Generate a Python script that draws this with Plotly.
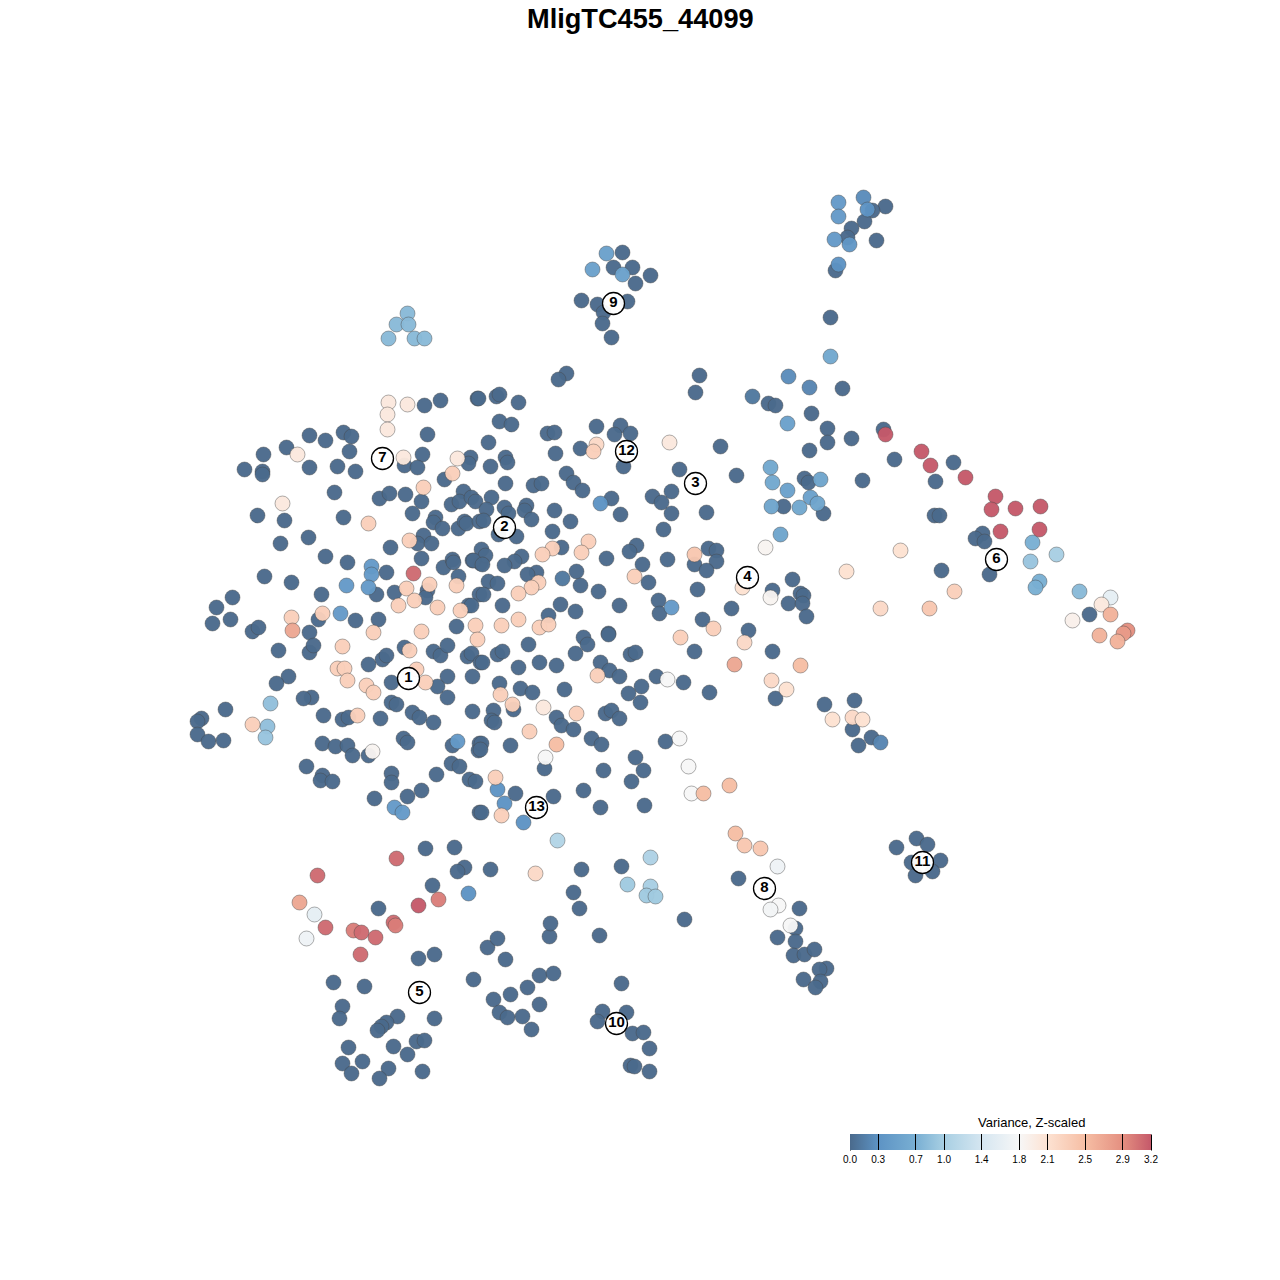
"""t-SNE style scatter of cells coloured by scaled variance."""
import plotly.graph_objects as go

TITLE = "MligTC455_44099"

# cells at the bottom of the scale
dark_x = [424,440,477,427,422,404,417,309,325,343,351,349,286,263,244,262,262,309,337,355,334,379,389,405,421,412,444,470,468,463,451,459,471,475,435,433,442,458,464,466,479,257,284,343,280,308,325,347,390,423,417,431,421,264,291,321,386,376,394,232,216,212,230,252,258,318,309,355,378,443,452,453,458,472,480,427,425,468,456,479,
          478,496,499,518,499,511,547,554,596,620,614,630,488,580,555,505,507,490,623,720,736,679,566,573,582,505,533,541,671,652,661,671,706,611,620,491,486,504,508,526,524,531,554,483,570,498,516,552,663,636,629,606,561,481,485,473,482,521,514,504,667,642,708,716,716,694,706,536,527,576,488,497,580,648,483,598,697,502,658,659,560,548,575,619,731,702,748,471,608,695,768,
          278,309,313,404,368,382,386,433,440,447,467,471,480,288,276,391,447,437,472,447,311,303,391,396,412,419,433,472,225,201,197,197,208,223,323,342,348,380,322,335,347,352,368,403,407,452,479,478,306,322,320,332,451,459,436,391,391,469,475,421,407,374,479,
          583,587,608,528,575,630,635,694,772,497,502,482,518,539,556,600,609,619,499,520,532,564,656,683,641,628,640,709,775,493,491,494,513,556,561,573,605,611,619,591,601,665,481,480,510,544,603,635,643,631,515,553,583,600,644,481,
          885,872,864,851,847,876,835,622,613,632,650,635,581,597,627,603,602,611,830,566,558,699,842,775,811,827,883,851,827,809,894,953,935,862,804,808,783,823,934,939,982,975,984,989,941,1089,792,772,800,803,788,802,806,824,854,852,871,858,
          425,454,464,457,490,432,378,418,434,487,497,505,549,550,599,684,579,573,581,621,738,799,777,795,795,793,804,814,826,819,820,803,815,916,927,896,911,940,915,932,
          333,364,342,339,397,434,386,381,377,348,393,416,424,407,342,362,351,388,379,422,473,539,553,527,510,493,539,499,507,522,531,621,602,626,597,632,643,649,630,634,649]
dark_y = [405,400,398,434,454,465,467,435,440,432,436,451,447,454,469,471,474,467,466,471,492,498,493,494,501,513,479,457,463,491,504,501,497,501,517,522,528,528,521,523,521,515,520,517,543,537,556,562,547,535,543,543,558,576,582,594,572,594,592,597,607,623,619,631,627,619,632,620,619,567,559,562,576,560,563,590,597,605,626,594,
          398,396,394,402,421,424,433,432,426,425,434,433,442,448,453,457,462,466,466,446,475,469,473,482,490,483,485,483,491,496,502,513,512,498,514,497,509,507,513,505,510,519,510,520,521,534,536,531,529,545,551,558,547,549,555,560,564,556,561,565,559,564,548,550,561,564,570,572,574,571,581,583,585,582,594,591,589,605,600,613,604,615,611,605,608,619,630,605,633,392,403,
          650,652,645,647,664,659,655,651,655,645,656,653,662,676,683,682,676,686,676,697,697,698,702,704,712,717,722,711,709,718,721,734,741,740,715,719,717,718,743,746,745,755,755,738,742,745,743,750,766,775,780,781,763,766,774,773,782,779,781,790,796,798,812,
          637,644,634,644,653,654,652,651,651,654,651,662,667,662,665,662,670,676,683,688,692,689,676,682,686,693,702,692,698,710,720,722,709,717,725,729,713,710,718,738,744,741,743,749,745,768,770,757,770,781,793,796,790,807,805,812,
          206,210,221,228,237,240,270,252,267,267,275,283,300,304,301,312,323,337,317,373,379,375,388,405,413,428,429,438,442,450,459,462,481,480,478,482,506,513,515,515,533,538,541,574,570,614,579,590,593,595,603,603,616,704,700,729,737,745,
          848,847,867,871,869,885,908,958,954,947,938,959,936,923,935,919,908,892,869,866,878,908,937,928,941,955,954,949,968,969,981,979,987,838,844,847,862,860,875,871,
          982,986,1006,1018,1016,1018,1022,1026,1030,1047,1046,1041,1040,1054,1063,1061,1073,1068,1078,1071,979,975,973,987,994,999,1004,1012,1017,1016,1029,983,1011,1012,1021,1033,1032,1048,1065,1066,1071]

# slightly lighter blues
blue_x = [752,562,863,838,867,838,834,849,838,606,592,622,788,809,787,830,770,772,787,820,810,817,799,771,780,880,371,371,346,368,340,600,671,457,394,402,497,504,523,468]
blue_y = [396,578,197,202,209,216,239,244,264,253,269,274,376,387,423,356,467,482,490,479,497,503,507,506,534,742,566,574,585,587,613,503,607,741,807,812,789,803,822,893]
blue_v = [.1,.1,.25,.4,.3,.4,.4,.35,.3,.5,.5,.5,.25,.2,.5,.6,.6,.6,.5,.55,.5,.55,.6,.55,.55,.2,.4,.4,.4,.4,.4,.3,.4,.4,.4,.4,.3,.3,.3,.3]

# pale blues and whites
pale_x = [407,396,408,388,414,424,270,267,265,557,1032,1056,1030,1039,1035,1079,1110,650,627,650,646,655,314,306,777,778,770,790,765,770,372,667,679,688,691,545,1072]
pale_y = [313,324,324,338,338,338,703,726,737,840,542,554,561,581,587,591,597,857,884,886,895,896,914,938,866,905,909,925,547,597,751,679,738,766,793,757,620]
pale_v = [.8,.8,.8,.8,.8,.8,.85,.85,.9,1.1,.7,1.0,.9,.7,.7,.8,1.6,1.05,.95,1.0,.95,.95,1.6,1.7,1.7,1.8,1.75,1.8,1.85,1.85,1.85,1.8,1.8,1.8,1.8,1.8,1.9]

# peach cells
peach_x = [388,407,387,387,297,403,457,282,452,423,368,409,429,406,456,414,398,437,460,291,322,475,373,421,596,593,669,588,581,552,542,694,634,538,531,518,518,501,539,548,713,742,342,477,409,337,344,347,366,373,416,425,357,252,680,744,597,500,512,576,543,529,495,501,771,786,832,852,862,900,846,954,880,929,1101,535]
peach_y = [402,404,414,429,454,457,458,503,473,487,523,540,584,588,585,600,605,607,610,617,613,625,632,631,444,451,442,541,552,548,554,554,576,582,587,593,619,625,627,624,628,587,646,639,650,668,668,680,685,692,669,682,715,724,637,642,675,694,704,713,707,731,777,815,680,689,719,717,719,550,571,591,608,608,604,873]
peach_v = [2.0,2.0,2.0,2.0,2.0,2.0,2.0,2.0,2.3,2.3,2.3,2.3,2.3,2.3,2.3,2.3,2.3,2.3,2.3,2.3,2.3,2.3,2.3,2.3,2.2,2.3,2.0,2.3,2.3,2.3,2.3,2.4,2.3,2.3,2.3,2.3,2.3,2.3,2.3,2.3,2.3,2.1,2.3,2.3,2.3,2.3,2.3,2.3,2.3,2.3,2.3,2.3,2.3,2.3,2.3,2.2,2.3,2.3,2.3,2.3,2.0,2.3,2.3,2.3,2.2,2.1,2.1,2.2,2.1,2.1,2.1,2.3,2.2,2.4,2.0,2.2]

# salmon and red cells
red_x = [292,413,556,729,703,735,744,760,734,800,885,921,930,965,995,991,1015,1040,1039,1000,1110,1099,1127,1123,1117,396,317,438,418,299,325,353,361,393,395,375,360]
red_y = [630,573,744,785,793,833,845,848,664,665,434,451,465,477,496,509,508,506,529,531,614,635,630,633,641,858,875,899,905,902,927,930,932,922,925,937,954]
red_v = [2.7,3.1,2.5,2.5,2.5,2.5,2.4,2.4,2.7,2.5,3.2,3.2,3.2,3.2,3.2,3.2,3.2,3.2,3.2,3.2,2.6,2.6,2.9,2.8,2.6,3.1,3.1,3.0,3.2,2.7,3.1,3.0,3.1,3.1,3.0,3.1,3.1]

cluster_x = [408,504,695,747,419,996,382,764,613,616,922,626,536]
cluster_y = [678,527,483,577,992,559,458,888,303,1023,862,451,807]
cluster_labels = ["1","2","3","4","5","6","7","8","9","10","11","12","13"]

scale_ticks = [0.0,0.3,0.7,1.0,1.4,1.8,2.1,2.5,2.9,3.2]
scale_labels = ["0.0","0.3","0.7","1.0","1.4","1.8","2.1","2.5","2.9","3.2"]
scale_colors = ["#4a6a8c","#5d93c4","#79afd3","#a8cfe3","#d5e6f1","#f7f7f7","#fde2d2","#f6bea4","#e48f80","#c5596a"]

colorscale = [[t / 3.2, c] for t, c in zip(scale_ticks, scale_colors)]

fig = go.Figure()
marker_line = dict(width=1, color="rgba(70,70,70,0.45)")


def add_cells(xs, ys, vals):
    fig.add_trace(go.Scatter(
        x=xs, y=ys, mode="markers", hoverinfo="skip", showlegend=False,
        marker=dict(size=15, color=vals, coloraxis="coloraxis", opacity=0.96, line=marker_line),
    ))


add_cells(dark_x, dark_y, [0.0] * len(dark_x))
add_cells(blue_x, blue_y, blue_v)
add_cells(pale_x, pale_y, pale_v)
add_cells(peach_x, peach_y, peach_v)
add_cells(red_x, red_y, red_v)

fig.add_trace(go.Scatter(
    x=cluster_x, y=cluster_y, text=cluster_labels, mode="markers+text",
    textposition="middle center", hoverinfo="skip", showlegend=False,
    textfont=dict(family="Liberation Sans", size=15, color="black", weight="bold"),
    marker=dict(size=22, color="rgba(255,255,255,0.95)", line=dict(width=1.3, color="black")),
))

fig.update_layout(
    width=1280, height=1280, margin=dict(l=0, r=0, t=0, b=0),
    paper_bgcolor="white", plot_bgcolor="white",
    font=dict(family="Liberation Sans", color="black"),
    xaxis=dict(range=[-0.5, 1279.5], visible=False),
    yaxis=dict(range=[1279.5, -0.5], visible=False),
    coloraxis=dict(
        cmin=0, cmax=3.2, colorscale=colorscale,
        colorbar=dict(
            orientation="h", lenmode="pixels", len=301, thicknessmode="pixels", thickness=16,
            xref="paper", yref="paper", x=1000.5 / 1280, xanchor="center", y=1 - 1181 / 1280, yanchor="bottom",
            xpad=0, ypad=0, outlinewidth=0, ticks="inside", ticklen=16, tickwidth=1, tickcolor="black",
            tickmode="array", tickvals=scale_ticks, ticktext=scale_labels,
            tickfont=dict(size=10, family="Liberation Sans", color="black"),
        ),
    ),
    annotations=[
        dict(text=TITLE, x=640, y=17.5, xref="x", yref="y", showarrow=False,
             font=dict(size=27.2, family="Liberation Sans", color="black", weight="bold")),
        dict(text="Variance, Z-scaled", x=1031, y=1122, xref="x", yref="y", showarrow=False,
             font=dict(size=13, family="Liberation Sans", color="black")),
    ],
    shapes=[
        dict(type="line", x0=850, x1=850, y0=1134, y1=1150, xref="x", yref="y", line=dict(color="black", width=1)),
        dict(type="line", x0=1151, x1=1151, y0=1134, y1=1150, xref="x", yref="y", line=dict(color="black", width=1)),
    ],
)

fig.write_html("out.html", config={"displayModeBar": False}, post_script="document.body.style.margin='0';")
